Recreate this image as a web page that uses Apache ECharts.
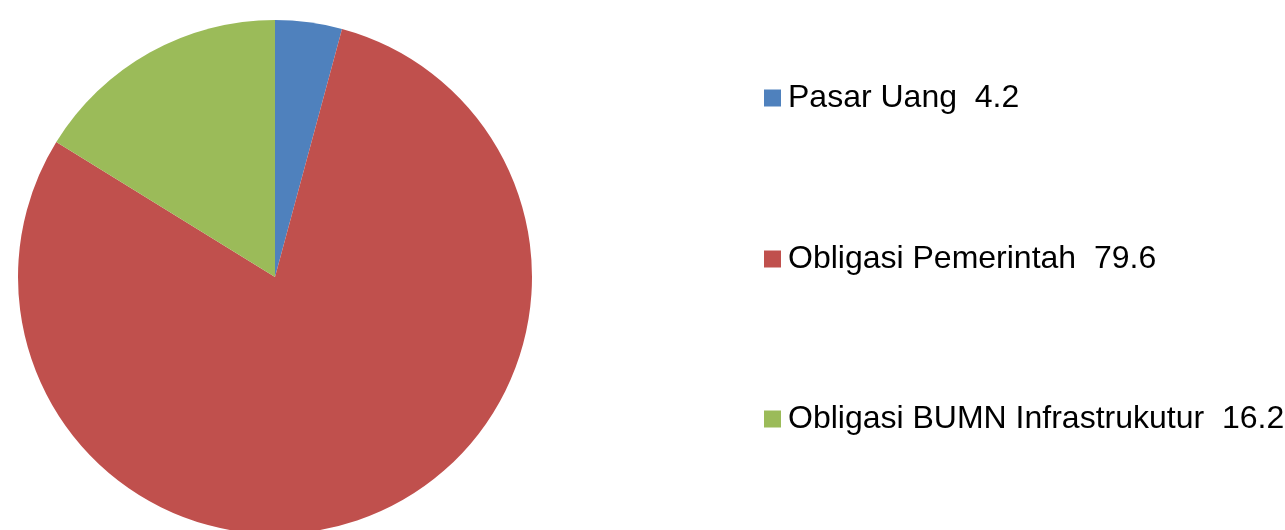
<!DOCTYPE html>
<html>
<head>
<meta charset="utf-8">
<script src="https://cdn.jsdelivr.net/npm/echarts@6/dist/echarts.min.js"></script>
<style>
  html, body { margin: 0; padding: 0; background: #fff; }
  #chart { width: 1285px; height: 530px; }
</style>
</head>
<body>
<div id="chart"></div>
<script>
// data
var names = ["Pasar Uang", "Obligasi Pemerintah", "Obligasi BUMN Infrastrukutur"];
var values = [4.2, 79.6, 16.2];
var colors = ["#4F81BD", "#C0504D", "#9BBB59"];
var legendCenters = [98, 259, 419];

var chart = echarts.init(document.getElementById("chart"));

// one legend per item so each can sit at its own height
var legends = names.map(function (n, i) {
  return {
    data: [n],
    left: 764,
    top: legendCenters[i] - 16,
    padding: 0,
    itemWidth: 17,
    itemHeight: 17,
    icon: "rect",
    selectedMode: false,
    textStyle: {
      fontFamily: "Liberation Sans",
      fontSize: 32,
      lineHeight: 32,
      padding: [0, 0, 0, 2],
      color: "#000"
    },
    formatter: function (name) {
      return name + "  " + values[names.indexOf(name)];
    }
  };
});

var option = {
  animation: false,
  color: colors,
  legend: legends,
  series: [
    {
      type: "pie",
      center: [275, 277],
      radius: 257,
      startAngle: 90,
      clockwise: true,
      label: { show: false },
      labelLine: { show: false },
      emphasis: { disabled: true },
      data: names.map(function (n, i) {
        return { name: n, value: values[i] };
      })
    }
  ]
};

chart.setOption(option);
window.onresize = function () {
  chart.resize();
};
</script>
</body>
</html>
